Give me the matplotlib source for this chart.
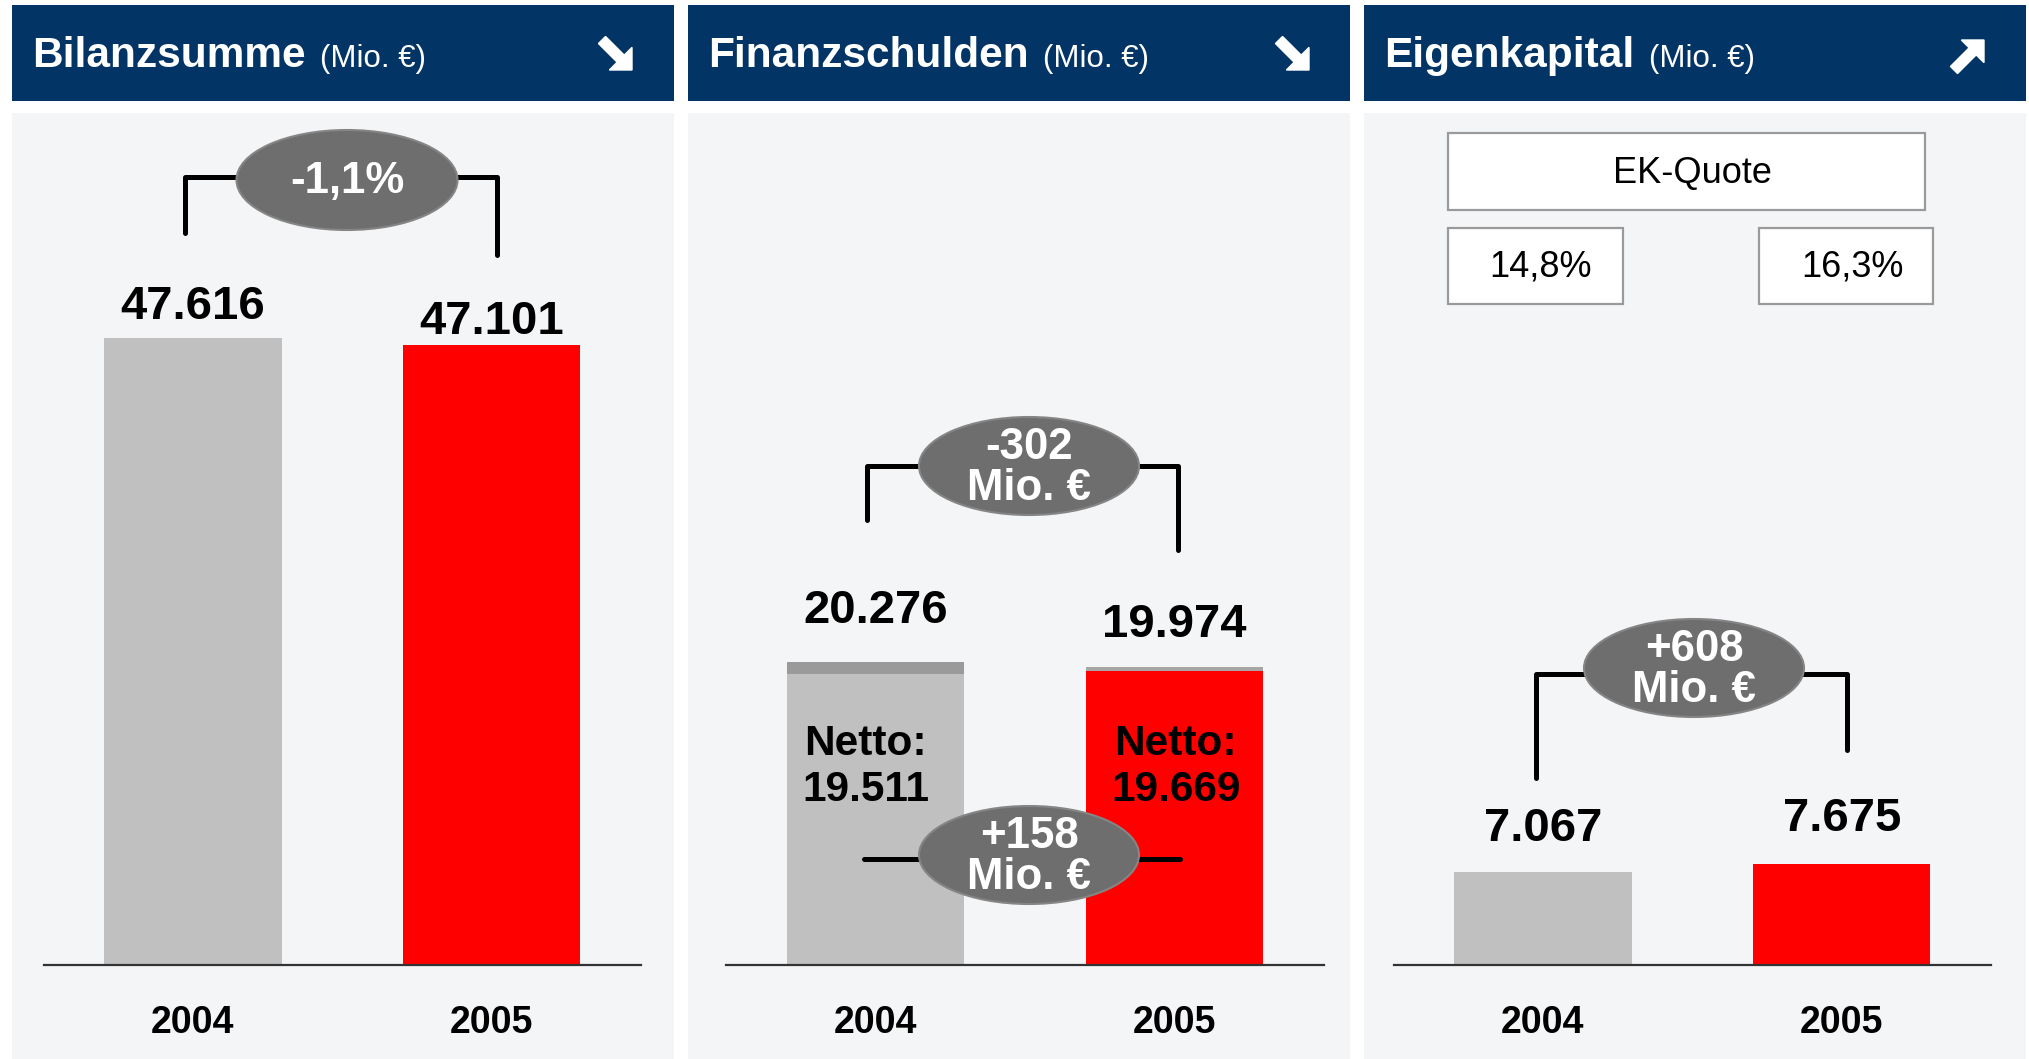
import matplotlib
matplotlib.use('Agg')
import matplotlib.pyplot as plt
import matplotlib.transforms as mtransforms
from matplotlib.patches import Rectangle, Ellipse, FancyArrow
from matplotlib.lines import Line2D

# ---------------- data ----------------
years = ['2004', '2005']
bilanzsumme = [47616, 47101]
finanzschulden = [20276, 19974]
finanzschulden_netto = [19511, 19669]
eigenkapital = [7067, 7675]
ek_quote = ['14,8%', '16,3%']
titles = ['Bilanzsumme', 'Finanzschulden', 'Eigenkapital']
unit = '(Mio. €)'
change_bilanz = '-1,1%'
change_schulden = '-302\nMio. €'
change_netto = '+158\nMio. €'
change_ek = '+608\nMio. €'
trend_up = [False, False, True]

# ---------------- layout / style ----------------
W, H, DPI = 2029, 1059, 100
NAVY = '#033466'
PANEL_BG = '#F4F5F7'
GRAY = '#C0C0C0'
RED = '#FF0000'
ELL = '#6E6E6E'

plt.rcParams['font.family'] = ['Liberation Sans', 'DejaVu Sans']
fig = plt.figure(figsize=(W / DPI, H / DPI), dpi=DPI, facecolor='white')
T = mtransforms.Affine2D().scale(1 / W, -1 / H).translate(0, 1) + fig.transFigure

panel_x = [12, 688, 1364]
PW = 662
HEAD_TOP, HEAD_BOT = 5, 101
BODY_TOP = 113
BASE = 965
scales = [0.01317, 0.01494, 0.01317]   # pixel per Mio. €
label_gap = [[19, 11], [39, 30], [31, 33]]
netto_dx = [-0.033, 0.005]
X0 = [181, 187.5, 179]
DX = 298.7
BAR_W = 0.593


def fmt(v):
    return f"{v:,}".replace(',', '.')


axes = []
for p in range(3):
    px = panel_x[p]
    s = scales[p]
    ax = fig.add_axes([px / W, 0, PW / W, (H - BODY_TOP) / H])
    ax.set_facecolor(PANEL_BG)
    ax.set_xlim(-X0[p] / DX, (PW - X0[p]) / DX)
    ax.set_ylim(-(H - BASE) / s, (BASE - BODY_TOP) / s)
    for sp in ['top', 'left', 'right']:
        ax.spines[sp].set_visible(False)
    ax.spines['bottom'].set_position(('data', 0))
    ax.spines['bottom'].set_bounds(-0.5, 1.5)
    ax.spines['bottom'].set_linewidth(1.6)
    ax.spines['bottom'].set_color('#333333')
    ax.set_yticks([])
    ax.set_xticks([0, 1])
    ax.set_xticklabels(years, fontsize=27, fontweight='bold')
    ax.tick_params(axis='x', length=0, pad=29)
    axes.append(ax)

    # header
    fig.add_artist(Rectangle((px, HEAD_TOP), PW, HEAD_BOT - HEAD_TOP,
                             facecolor=NAVY, edgecolor='none', transform=T))

# header texts
unit_x = [320, 1043, 1649]
for p in range(3):
    px = panel_x[p]
    fig.text(px + 20, 67, titles[p], transform=T, color='white',
             fontsize=30.5, fontweight='bold', va='baseline', ha='left')
    fig.text(unit_x[p], 67, unit, transform=T, color='white',
             fontsize=22.5, va='baseline', ha='left')

arrow_x = [602, 1279, 1954]
for p in range(3):
    if trend_up[p]:
        x, y, dx, dy = arrow_x[p], 70, 30, -30
    else:
        x, y, dx, dy = arrow_x[p], 40, 30, 30
    fig.add_artist(FancyArrow(x, y, dx, dy, width=10, head_width=32,
                              head_length=16, length_includes_head=True,
                              color='white', transform=T))

xs = [0, 1]
# ---- panel 1: Bilanzsumme
ax = axes[0]
ax.bar(xs, bilanzsumme, width=BAR_W, color=[GRAY, RED], zorder=2)
for i, v in enumerate(bilanzsumme):
    ax.annotate(fmt(v), xy=(i, v), xytext=(0, label_gap[0][i]), textcoords='offset pixels',
                ha='center', va='baseline', fontsize=34, fontweight='bold')

# ---- panel 2: Finanzschulden
ax = axes[1]
ax.bar(xs, finanzschulden_netto, width=BAR_W, color=[GRAY, RED], zorder=2)
ax.bar(xs, [t - n for t, n in zip(finanzschulden, finanzschulden_netto)],
       bottom=finanzschulden_netto, width=BAR_W, color=['#9A9A9A', '#A6A6A6'], zorder=2)
for i, v in enumerate(finanzschulden):
    ax.annotate(fmt(v), xy=(i, v), xytext=(0, label_gap[1][i]), textcoords='offset pixels',
                ha='center', va='baseline', fontsize=34, fontweight='bold')
bt = mtransforms.blended_transform_factory(ax.transData, T)
for i, v in enumerate(finanzschulden_netto):
    ax.text(i + netto_dx[i], 767, 'Netto:\n' + fmt(v), transform=bt, ha='center', va='center',
            fontsize=30.5, fontweight='bold', linespacing=1.22, zorder=3)

# ---- panel 3: Eigenkapital
ax = axes[2]
ax.bar(xs, eigenkapital, width=BAR_W, color=[GRAY, RED], zorder=2)
for i, v in enumerate(eigenkapital):
    ax.annotate(fmt(v), xy=(i, v), xytext=(0, label_gap[2][i]), textcoords='offset pixels',
                ha='center', va='baseline', fontsize=34, fontweight='bold')


# ---- EK-Quote boxes
def box(x, y, w, h, text, tx, ty):
    fig.add_artist(Rectangle((x, y), w, h, facecolor='white', edgecolor='#9A9A9A',
                             linewidth=1.6, transform=T, zorder=5))
    fig.text(tx, ty, text, transform=T, ha='center', va='center', fontsize=26, zorder=6)


box(1448, 133, 477, 77, 'EK-Quote', 1692, 173)
box(1448, 228, 175, 76, ek_quote[0], 1541, 267)
box(1759, 228, 174, 76, ek_quote[1], 1852, 267)


# ---- brackets and change ellipses
def bracket(pts):
    xsb = [q[0] for q in pts]
    ysb = [q[1] for q in pts]
    fig.add_artist(Line2D(xsb, ysb, color='black', linewidth=3.6, transform=T,
                          solid_capstyle='round', solid_joinstyle='round', zorder=7))


def bubble(cx, cy, w, h, text, fs, ls=1.0):
    fig.add_artist(Ellipse((cx, cy), w, h, facecolor=ELL, edgecolor='#858585',
                           linewidth=1.5, transform=T, zorder=8))
    fig.text(cx, cy + 2, text, transform=T, ha='center', va='center', color='white',
             fontsize=fs, fontweight='bold', linespacing=ls, zorder=9)


bracket([(185, 233), (185, 177), (497, 177), (497, 255)])
bubble(347, 180, 221, 100, change_bilanz, 31.5)

bracket([(867, 520), (867, 466), (1178, 466), (1178, 550)])
bubble(1029, 466, 220, 98, change_schulden, 31.5, 1.0)

bracket([(864, 859), (1180, 859)])
bubble(1029, 855, 220, 98, change_netto, 31.5, 1.0)

bracket([(1536, 778), (1536, 674), (1847, 674), (1847, 750)])
bubble(1694, 668, 220, 98, change_ek, 31.5, 1.0)

fig.savefig('out.png', dpi=DPI, facecolor='white')
